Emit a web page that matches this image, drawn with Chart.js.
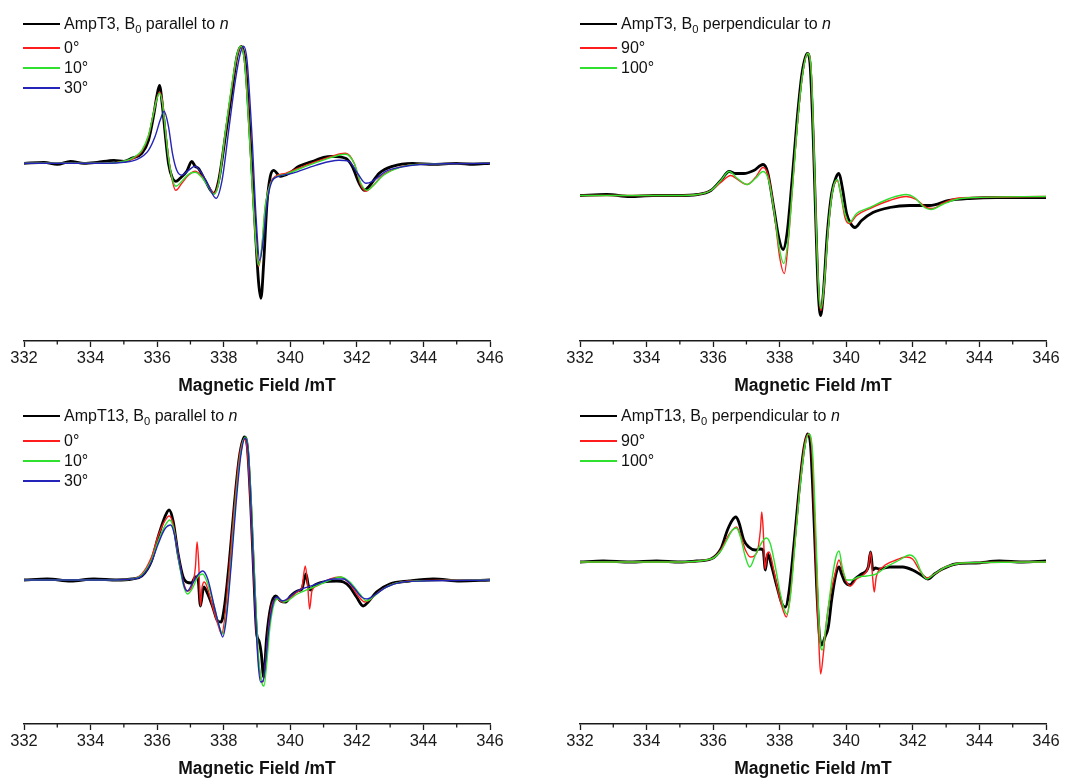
<!DOCTYPE html>
<html>
<head>
<meta charset="utf-8">
<script src="https://cdn.jsdelivr.net/npm/chart.js@4.4.0/dist/chart.umd.min.js"></script>
<style>
  html, body { margin: 0; padding: 0; background: #fff; overflow: hidden; }
  body { width: 1067px; height: 780px; position: relative;
         font-family: "Liberation Sans", Arial, sans-serif; color: #111; }
  .panel { position: absolute; height: 400px; }
  .legend-row { position: absolute; height: 20px; display: flex; align-items: center;
                font-size: 16px; white-space: nowrap; }
  .legend-row .swatch { display: inline-block; width: 37px; margin-right: 4px; }
  sub { font-size: 0.7em; vertical-align: -0.35em; line-height: 0; }
</style>
</head>
<body>
<script>
// ── Data (field in mT, intensity in arbitrary units, baseline = 0) ─────────

const fieldMin = 332, fieldMax = 346;
const majorTicks = [332, 334, 336, 338, 340, 342, 344, 346];
const minorTicks = [333, 335, 337, 339, 341, 343, 345];
const axisTitle = 'Magnetic Field /mT';

// AmpT3, B0 parallel to n
const t3ParLabels = ['AmpT3, B<sub>0</sub> parallel to <i>n</i>', '0°', '10°', '30°'];
const t3ParExp = [[332,0],[332.6,0.01],[333,-0.01],[333.4,0.02],[333.8,0],[334.2,0.01],[334.7,0.03],[335,0.02],
  [335.23,0.05],[335.54,0.1],[335.74,0.23],[335.89,0.47],[335.99,0.67],[336.07,0.78],[336.16,0.57],[336.24,0.3],
  [336.34,0],[336.46,-0.15],[336.56,-0.18],[336.69,-0.15],[336.89,-0.08],[337.04,0.02],[337.14,-0.03],[337.24,-0.05],
  [337.44,-0.17],[337.7,-0.3],[337.85,-0.17],[338.05,0.27],[338.25,0.73],[338.4,1.07],[338.53,1.17],[338.65,1],
  [338.8,0.23],[338.95,-0.67],[339.05,-1.2],[339.12,-1.35],[339.2,-1],[339.3,-0.4],[339.4,-0.13],[339.5,-0.07],
  [339.7,-0.13],[339.96,-0.1],[340.26,-0.03],[340.5,0],[340.76,0.03],[341,0.06],[341.26,0.07],[341.66,0.05],
  [341.86,-0.03],[342.07,-0.2],[342.22,-0.27],[342.37,-0.23],[342.67,-0.1],[343.07,-0.03],[343.67,0],[344.3,-0.01],
  [345,0],[345.5,-0.01],[346,0]];
const t3Par0 = [[332,0],[334.5,0],[335,0.02],[335.3,0.05],[335.54,0.12],[335.74,0.27],[335.89,0.5],[335.99,0.65],
  [336.07,0.71],[336.16,0.62],[336.24,0.37],[336.34,0.07],[336.46,-0.18],[336.56,-0.27],[336.74,-0.2],[336.94,-0.12],
  [337.14,-0.08],[337.34,-0.13],[337.55,-0.23],[337.7,-0.3],[337.85,-0.18],[338.05,0.3],[338.25,0.77],[338.4,1.07],
  [338.53,1.17],[338.65,0.97],[338.8,0.17],[338.93,-0.6],[339.05,-1.03],[339.15,-0.83],[339.25,-0.43],[339.4,-0.2],
  [339.55,-0.13],[339.86,-0.1],[340.46,-0.02],[341.06,0.05],[341.66,0.1],[341.92,0],[342.12,-0.22],[342.27,-0.28],
  [342.47,-0.23],[342.77,-0.12],[343.27,-0.04],[343.87,-0.01],[346,0]];
const t3Par10 = [[332,0],[334.5,0],[335,0.02],[335.3,0.06],[335.54,0.13],[335.74,0.28],[335.89,0.5],[335.99,0.64],
  [336.07,0.7],[336.16,0.6],[336.24,0.36],[336.34,0.06],[336.46,-0.16],[336.56,-0.23],[336.74,-0.18],[336.94,-0.11],
  [337.14,-0.09],[337.34,-0.14],[337.55,-0.24],[337.7,-0.31],[337.85,-0.2],[338.05,0.32],[338.25,0.8],[338.4,1.09],
  [338.51,1.17],[338.63,1],[338.78,0.22],[338.92,-0.58],[339.04,-1.02],[339.14,-0.85],[339.24,-0.45],[339.4,-0.21],
  [339.55,-0.14],[339.86,-0.11],[340.46,-0.03],[341.06,0.04],[341.66,0.09],[341.92,0],[342.12,-0.2],[342.3,-0.27],
  [342.5,-0.22],[342.8,-0.12],[343.3,-0.04],[343.9,-0.01],[346,0]];
const t3Par30 = [[332,0],[334.5,0],[335,0.01],[335.4,0.04],[335.74,0.13],[335.94,0.27],[336.09,0.43],[336.21,0.52],
  [336.34,0.37],[336.46,0.1],[336.59,-0.07],[336.74,-0.12],[336.94,-0.07],[337.14,-0.03],[337.34,-0.1],[337.55,-0.23],
  [337.77,-0.35],[337.95,-0.17],[338.15,0.33],[338.35,0.83],[338.5,1.1],[338.6,1.17],[338.7,1.03],[338.85,0.27],
  [338.97,-0.53],[339.08,-0.97],[339.2,-0.73],[339.3,-0.4],[339.45,-0.18],[339.65,-0.13],[340.06,-0.1],[340.76,-0.02],
  [341.46,0.03],[341.76,0.02],[342.02,-0.1],[342.27,-0.2],[342.47,-0.18],[342.87,-0.08],[343.47,-0.03],[344.1,-0.01],[346,0]];

// AmpT3, B0 perpendicular to n
const t3PerpLabels = ['AmpT3, B<sub>0</sub> perpendicular to <i>n</i>', '90°', '100°'];
const t3PerpExp = [[332,0],[332.8,0.01],[333.5,-0.01],[334.2,0],[334.93,0],[335.53,0.01],[335.93,0.05],[336.23,0.15],
  [336.48,0.24],[336.68,0.22],[336.92,0.22],[337.22,0.25],[337.5,0.31],[337.64,0.23],[337.82,-0.12],[337.97,-0.42],
  [338.1,-0.54],[338.22,-0.38],[338.37,0.15],[338.52,0.75],[338.67,1.22],[338.83,1.42],[338.91,1.32],[339.01,0.55],
  [339.09,-0.32],[339.16,-0.98],[339.23,-1.2],[339.31,-0.98],[339.43,-0.38],[339.56,0.02],[339.69,0.18],[339.78,0.22],
  [339.88,0.08],[340.01,-0.18],[340.13,-0.28],[340.26,-0.32],[340.46,-0.25],[340.8,-0.17],[341.3,-0.12],[341.9,-0.1],
  [342.5,-0.1],[343.09,-0.05],[343.69,-0.03],[344.5,-0.02],[345.3,-0.02],[346,-0.02]];
const t3Perp90 = [[332,0],[334.9,0],[335.53,0.01],[335.93,0.05],[336.23,0.13],[336.53,0.2],[336.73,0.16],[337.02,0.11],
  [337.27,0.18],[337.5,0.28],[337.67,0.18],[337.84,-0.18],[338,-0.62],[338.14,-0.78],[338.26,-0.45],[338.4,0.15],
  [338.54,0.75],[338.69,1.22],[338.84,1.42],[338.94,1.28],[339.03,0.45],[339.11,-0.45],[339.19,-1.05],[339.24,-1.15],
  [339.33,-0.92],[339.46,-0.32],[339.59,0.05],[339.73,0.15],[339.83,0.02],[339.96,-0.22],[340.09,-0.28],[340.31,-0.2],
  [340.71,-0.13],[341.3,-0.05],[341.8,-0.01],[342.1,-0.04],[342.4,-0.12],[342.6,-0.13],[342.89,-0.08],[343.29,-0.03],
  [343.89,-0.02],[346,-0.01]];
const t3Perp100 = [[332,0],[334.9,0],[335.53,0.01],[335.93,0.05],[336.23,0.15],[336.48,0.24],[336.73,0.17],[337.02,0.11],
  [337.27,0.17],[337.5,0.24],[337.67,0.15],[337.84,-0.18],[338,-0.55],[338.12,-0.68],[338.26,-0.42],[338.4,0.15],
  [338.54,0.75],[338.69,1.22],[338.84,1.42],[338.94,1.28],[339.03,0.45],[339.11,-0.45],[339.19,-1.03],[339.24,-1.13],
  [339.33,-0.9],[339.46,-0.32],[339.59,0.05],[339.73,0.16],[339.83,0.02],[339.96,-0.18],[340.09,-0.27],[340.31,-0.18],
  [340.71,-0.12],[341.3,-0.03],[341.8,0.01],[342.05,-0.02],[342.35,-0.12],[342.55,-0.14],[342.89,-0.09],[343.29,-0.04],
  [343.89,-0.02],[346,-0.01]];

// AmpT13, B0 parallel to n
const t13ParLabels = ['AmpT13, B<sub>0</sub> parallel to <i>n</i>', '0°', '10°', '30°'];
const t13ParExp = [[332,0],[332.7,0.01],[333.4,-0.01],[334.1,0.01],[334.8,0],[335.24,0.01],[335.54,0.04],[335.83,0.19],
  [336.03,0.43],[336.23,0.63],[336.36,0.7],[336.48,0.59],[336.63,0.26],[336.78,0.03],[336.88,-0.02],[337.03,-0.03],
  [337.15,0.03],[337.22,0.03],[337.3,-0.26],[337.4,-0.07],[337.52,-0.14],[337.67,-0.27],[337.82,-0.41],[337.92,-0.42],
  [338.02,-0.27],[338.17,0.19],[338.32,0.76],[338.47,1.23],[338.62,1.43],[338.71,1.33],[338.81,0.76],[338.91,-0.01],
  [338.99,-0.54],[339.06,-0.61],[339.13,-0.74],[339.2,-0.97],[339.29,-0.57],[339.41,-0.27],[339.56,-0.16],[339.71,-0.21],
  [339.86,-0.22],[340.01,-0.16],[340.21,-0.11],[340.35,-0.09],[340.47,0.06],[340.54,-0.05],[340.6,-0.1],[340.7,-0.06],
  [341,-0.02],[341.4,-0.01],[341.6,-0.02],[341.79,-0.07],[341.99,-0.17],[342.19,-0.26],[342.34,-0.22],[342.59,-0.12],
  [342.99,-0.04],[343.58,-0.01],[344.3,0.01],[345.1,-0.01],[346,0]];
const t13Par0 = [[332,0],[334.5,0],[335.24,0.01],[335.54,0.06],[335.83,0.23],[336.03,0.44],[336.23,0.59],[336.36,0.64],
  [336.48,0.56],[336.63,0.26],[336.78,-0.01],[336.91,-0.11],[337.05,-0.06],[337.15,0.13],[337.2,0.38],[337.25,0.16],
  [337.3,-0.26],[337.35,-0.07],[337.42,-0.02],[337.52,-0.09],[337.67,-0.27],[337.82,-0.44],[337.94,-0.54],[338.02,-0.41],
  [338.17,0.13],[338.32,0.73],[338.47,1.23],[338.62,1.41],[338.71,1.29],[338.81,0.73],[338.91,-0.01],[339.01,-0.67],
  [339.11,-0.97],[339.18,-1.02],[339.26,-0.81],[339.36,-0.44],[339.48,-0.22],[339.61,-0.19],[339.76,-0.22],[339.96,-0.19],
  [340.21,-0.12],[340.35,-0.07],[340.45,0.14],[340.52,-0.04],[340.58,-0.29],[340.65,-0.11],[340.8,-0.06],[341.2,0.01],
  [341.5,0.03],[341.79,-0.04],[342.04,-0.16],[342.24,-0.22],[342.39,-0.2],[342.69,-0.11],[343.09,-0.04],[343.68,-0.01],[346,0]];
const t13Par10 = [[332,0],[334.5,0],[335.24,0.01],[335.54,0.05],[335.83,0.2],[336.03,0.39],[336.23,0.54],[336.38,0.6],
  [336.51,0.49],[336.65,0.19],[336.78,-0.04],[336.91,-0.14],[337.05,-0.09],[337.22,0.03],[337.37,0.06],[337.52,-0.04],
  [337.72,-0.27],[337.87,-0.47],[337.97,-0.54],[338.07,-0.37],[338.22,0.19],[338.37,0.83],[338.52,1.29],[338.65,1.43],
  [338.74,1.29],[338.84,0.69],[338.94,-0.07],[339.04,-0.74],[339.14,-1.02],[339.21,-1.06],[339.29,-0.84],[339.39,-0.47],
  [339.51,-0.24],[339.63,-0.19],[339.81,-0.22],[340.21,-0.14],[340.7,-0.07],[341.2,0],[341.5,0.03],[341.79,-0.02],
  [342.09,-0.14],[342.29,-0.21],[342.49,-0.17],[342.79,-0.09],[343.19,-0.03],[343.8,-0.01],[346,0]];
const t13Par30 = [[332,0],[334.5,0],[335.24,0.01],[335.54,0.04],[335.83,0.18],[336.03,0.36],[336.23,0.51],[336.41,0.55],
  [336.53,0.44],[336.68,0.16],[336.81,-0.06],[336.91,-0.11],[337.05,-0.04],[337.22,0.05],[337.37,0.09],[337.52,0.01],
  [337.72,-0.27],[337.87,-0.47],[337.97,-0.57],[338.07,-0.41],[338.22,0.13],[338.37,0.76],[338.52,1.26],[338.65,1.42],
  [338.74,1.26],[338.84,0.59],[338.94,-0.21],[339.03,-0.81],[339.11,-1.02],[339.18,-1.01],[339.26,-0.81],[339.36,-0.47],
  [339.48,-0.24],[339.59,-0.17],[339.76,-0.21],[340.21,-0.11],[340.8,-0.04],[341.3,0.01],[341.6,0.01],[341.89,-0.07],
  [342.14,-0.17],[342.31,-0.19],[342.54,-0.15],[342.89,-0.07],[343.38,-0.02],[344,-0.01],[346,0]];

// AmpT13, B0 perpendicular to n
const t13PerpLabels = ['AmpT13, B<sub>0</sub> perpendicular to <i>n</i>', '90°', '100°'];
const t13PerpExp = [[332,0],[332.7,0.01],[333.5,0],[334.3,0.01],[335,0],[335.5,0.01],[335.93,0.03],[336.23,0.13],
  [336.43,0.32],[336.58,0.42],[336.68,0.45],[336.77,0.4],[336.92,0.22],[337.07,0.15],[337.27,0.12],[337.42,0.13],
  [337.5,0.12],[337.57,-0.08],[337.64,0.08],[337.74,-0.02],[337.92,-0.25],[338.07,-0.42],[338.17,-0.45],[338.27,-0.32],
  [338.42,0.15],[338.57,0.68],[338.72,1.12],[338.84,1.28],[338.93,1.15],[339.03,0.42],[339.11,-0.25],[339.19,-0.72],
  [339.26,-0.83],[339.36,-0.75],[339.46,-0.65],[339.56,-0.38],[339.69,-0.12],[339.78,-0.05],[339.86,-0.12],[339.96,-0.2],
  [340.11,-0.23],[340.26,-0.17],[340.46,-0.12],[340.66,-0.05],[340.73,0.1],[340.8,-0.08],[340.87,-0.06],[341,-0.07],
  [341.3,-0.05],[341.7,-0.05],[341.99,-0.08],[342.25,-0.13],[342.45,-0.17],[342.65,-0.12],[342.89,-0.07],[343.29,-0.02],
  [343.89,-0.01],[344.6,0.01],[345.3,0],[346,0.01]];
const t13Perp90 = [[332,0],[335,0],[335.93,0.03],[336.23,0.12],[336.43,0.25],[336.58,0.32],[336.7,0.35],[336.82,0.27],
  [336.97,0.12],[337.12,0.05],[337.32,0.1],[337.42,0.32],[337.46,0.5],[337.5,0.35],[337.56,-0.07],[337.62,0.08],
  [337.68,0.1],[337.82,-0.08],[337.97,-0.32],[338.1,-0.48],[338.2,-0.55],[338.32,-0.32],[338.47,0.25],[338.62,0.82],
  [338.75,1.18],[338.86,1.28],[338.96,1.15],[339.06,0.32],[339.13,-0.42],[339.19,-0.92],[339.23,-1.12],[339.31,-0.92],
  [339.41,-0.58],[339.53,-0.32],[339.66,-0.12],[339.78,0.02],[339.88,-0.08],[340.01,-0.2],[340.13,-0.24],[340.31,-0.17],
  [340.51,-0.13],[340.66,-0.05],[340.73,0.1],[340.79,-0.15],[340.84,-0.3],[340.9,-0.15],[341.1,-0.05],[341.5,0.02],
  [341.8,0.05],[341.99,0.03],[342.2,-0.08],[342.42,-0.16],[342.65,-0.12],[342.99,-0.05],[343.49,-0.01],[346,0]];
const t13Perp100 = [[332,0],[335,0],[335.93,0.03],[336.23,0.11],[336.43,0.23],[336.58,0.32],[336.7,0.34],[336.82,0.25],
  [336.97,0.05],[337.1,-0.05],[337.27,0.07],[337.47,0.2],[337.6,0.24],[337.72,0.18],[337.87,-0.05],[338.02,-0.32],
  [338.14,-0.48],[338.22,-0.52],[338.32,-0.35],[338.47,0.22],[338.62,0.78],[338.77,1.18],[338.88,1.28],[338.99,1.08],
  [339.09,0.25],[339.16,-0.42],[339.23,-0.85],[339.28,-0.88],[339.36,-0.72],[339.46,-0.45],[339.58,-0.15],[339.69,0.05],
  [339.78,0.11],[339.88,-0.05],[340.01,-0.18],[340.16,-0.18],[340.36,-0.15],[340.61,-0.14],[340.9,-0.12],[341.2,-0.05],
  [341.6,0.02],[341.9,0.07],[342.08,0.03],[342.25,-0.1],[342.42,-0.17],[342.65,-0.12],[342.99,-0.05],[343.49,-0.01],[346,0]];

// ── Styling ──────────────────────────────────────────────────────────────

const FONT = '"Liberation Sans", Arial, sans-serif';
const INK = '#1a1a1a';
const COLORS = ['#000000', '#ff1c1c', '#2fe02f', '#2424b8'];
const WIDTHS = [2.8, 1.4, 1.4, 1.4];

const panels = [
  { left: 0,   top: 0,   width: 533, padL: 24, padR: 43, yMin: -1.777, yMax: 1.533,
    labels: t3ParLabels,   series: [t3ParExp, t3Par0, t3Par10, t3Par30],
    legendX: 23,  legendY: [24, 48, 68, 88] },
  { left: 537, top: 0,   width: 530, padL: 43, padR: 21, yMin: -1.455, yMax: 1.855,
    labels: t3PerpLabels,  series: [t3PerpExp, t3Perp90, t3Perp100],
    legendX: 580, legendY: [24, 48, 68] },
  { left: 0,   top: 383, width: 533, padL: 24, padR: 43, yMin: -1.44, yMax: 1.87,
    labels: t13ParLabels,  series: [t13ParExp, t13Par0, t13Par10, t13Par30],
    legendX: 23,  legendY: [416, 441, 461, 481] },
  { left: 537, top: 383, width: 530, padL: 43, padR: 21, yMin: -1.62, yMax: 1.69,
    labels: t13PerpLabels, series: [t13PerpExp, t13Perp90, t13Perp100],
    legendX: 580, legendY: [416, 441, 461] }
];

// minor ticks (odd fields) are shorter than the labelled ones
const minorTickPlugin = {
  id: 'minorTicks',
  afterDraw(chart) {
    const s = chart.scales.x, ctx = chart.ctx;
    ctx.save();
    ctx.strokeStyle = INK;
    ctx.lineWidth = 1.3;
    minorTicks.forEach(v => {
      const px = s.getPixelForValue(v);
      ctx.beginPath();
      ctx.moveTo(px, s.top);
      ctx.lineTo(px, s.top + 3.5);
      ctx.stroke();
    });
    ctx.restore();
  }
};

function plainLabel(html) {
  return html.replace(/<[^>]+>/g, '');
}

function buildLegend(p) {
  p.labels.forEach((lab, i) => {
    const row = document.createElement('div');
    row.className = 'legend-row';
    row.style.left = p.legendX + 'px';
    row.style.top = (p.legendY[i] - 10) + 'px';
    const sw = document.createElement('span');
    sw.className = 'swatch';
    sw.style.height = (i === 0 ? 2.5 : 1.5) + 'px';
    sw.style.background = COLORS[i];
    const tx = document.createElement('span');
    tx.innerHTML = lab;
    row.appendChild(sw);
    row.appendChild(tx);
    document.body.appendChild(row);
  });
}

function buildPanel(p) {
  const box = document.createElement('div');
  box.className = 'panel';
  box.style.left = p.left + 'px';
  box.style.top = p.top + 'px';
  box.style.width = p.width + 'px';
  const canvas = document.createElement('canvas');
  box.appendChild(canvas);
  document.body.appendChild(box);

  const datasets = p.series.map((pts, i) => ({
    label: plainLabel(p.labels[i]),
    data: pts.map(([x, y]) => ({ x, y })),
    borderColor: COLORS[i],
    backgroundColor: COLORS[i],
    borderWidth: WIDTHS[i],
    pointRadius: 0,
    cubicInterpolationMode: 'monotone',
    fill: false,
    order: p.series.length - i
  }));

  new Chart(canvas, {
    type: 'line',
    data: { datasets },
    plugins: [minorTickPlugin],
    options: {
      responsive: true, maintainAspectRatio: false, animation: false,
      layout: { padding: { left: p.padL, right: p.padR, top: 10, bottom: 3 } },
      plugins: { legend: { display: false }, tooltip: { enabled: false } },
      scales: {
        x: { type: 'linear', min: fieldMin, max: fieldMax,
             afterBuildTicks: s => { s.ticks = majorTicks.map(v => ({ value: v })); },
             afterFit: s => { s.height = 56; },
             ticks: { color: INK, padding: 1.5, autoSkip: false, maxRotation: 0,
                      font: { family: FONT, size: 16.5 } },
             grid: { drawOnChartArea: false, drawTicks: true, tickLength: 6,
                     tickColor: INK, tickWidth: 1.3 },
             border: { color: INK, width: 1.6 },
             title: { display: true, text: axisTitle, color: '#111',
                      padding: { top: 0, bottom: 0 },
                      font: { family: FONT, size: 17.5, weight: 'bold' } } },
        y: { display: false, min: p.yMin, max: p.yMax }
      }
    }
  });
  buildLegend(p);
}

panels.forEach(buildPanel);
</script>
</body>
</html>
